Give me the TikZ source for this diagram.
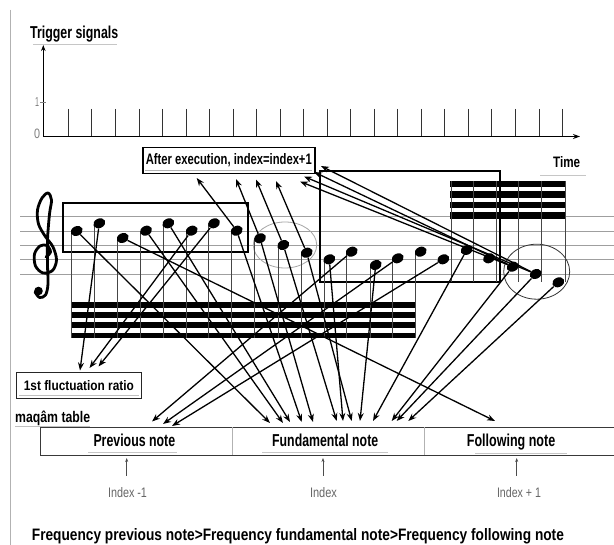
\documentclass[tikz,border=0pt]{standalone}
\usepackage{fontspec}
\setmainfont{Liberation Sans}
\usepackage{graphicx}
\usetikzlibrary{arrows.meta,shapes.geometric}
\newcommand{\fitt}[3]{\resizebox{#1pt}{#2pt}{#3}}
\begin{document}
\begin{tikzpicture}[x=1pt,y=-1pt,
  txt/.style={inner sep=0pt, anchor=base west},
  arr/.style={line width=1.3pt, -{Stealth[length=8pt,width=6pt]}},
  nh/.style={ellipse, fill=black, inner sep=0pt, minimum width=12.5pt, minimum height=9.5pt, rotate=25},
  staff/.style={draw=gray!75, line width=0.9pt},
  stemline/.style={draw=gray!55!black, line width=0.5pt},
  beam/.style={fill=black},
  idx/.style={-{Stealth[length=4pt,width=3pt]}, gray!60!black, line width=0.6pt}
]
\fill[white] (0,0) rectangle (614,545);
\useasboundingbox (0,0) rectangle (614,545);

% left rule
\draw[gray!60, line width=0.8pt] (10.7,10) -- (10.7,545);

% trigger signal plot
\node[txt] (trig) at (30,39) {\fitt{88}{12.5}{\bfseries Trigger signals}};
\draw[gray!45, line width=1pt] (33,44.5) -- (117,44.5);
\coordinate (yo) at (43.3,136.5);
\coordinate (ytop) at (43.3,45);
\coordinate (xend) at (580,136.5);
\draw[line width=1.3pt, -{Stealth[length=6pt,width=4.5pt]}] (yo) -- (ytop);
\draw[line width=1.8pt, -{Stealth[length=7pt,width=5pt]}] (yo) -- (xend);
\foreach \i in {0,...,21} \draw[gray!40!black, line width=0.7pt] ({68.3+23.53*\i},109) -- ({68.3+23.53*\i},136);
\draw[gray, line width=0.6pt] (40,102) -- (46,102);
\node[txt, anchor=base] (one) at (37,107) {\color{gray}\fitt{4}{9}{1}};
\node[txt, anchor=base] (zero) at (37,139) {\color{gray}\fitt{6}{9.5}{0}};

% time
\node[txt] (time) at (553,168) {\fitt{27}{11}{\bfseries Time}};
\draw[gray!45, line width=1pt] (540,175.7) -- (586,175.7);

% execution box
\node[draw, line width=1.5pt, minimum width=172pt, minimum height=26pt, inner sep=0pt] (exe) at (228.8,160.3) {\fitt{166}{11}{\bfseries After execution, index=index+1}};
\draw[gray!60, line width=0.6pt] (145,170.8) -- (312,170.8);

% staff
\foreach \y in {216.7,231,245.3,259.7,274} \draw[staff] (20,\y) -- (614,\y);

% treble clef drawn as a shape
\draw[line width=2.8pt, line cap=round, line join=round] plot[smooth, tension=0.55] coordinates {
  (46,257) (50.5,252) (47,245.5) (40,246) (34.5,254) (35.5,266) (43,273) (52.5,270.5) (56.5,260)
  (53,247) (45,236) (38.5,224) (37.5,210) (42,198) (48,193) (51.5,200) (49.5,214) (47.5,240)
  (47.5,265) (48,284) (45.5,295) (39.5,297.5) (35,292)};
\fill (38.5,291) circle (4.3pt);

% groups
\node[draw, line width=1.8pt, minimum width=185.6pt, minimum height=49pt, inner sep=0pt] (grp1) at (155.5,227.2) {};
\node[draw, line width=1.4pt, minimum width=180pt, minimum height=111pt, inner sep=0pt] (grp3) at (410,226.5) {};
\node[draw=gray!70, line width=0.8pt, ellipse, minimum width=63.4pt, minimum height=46pt, inner sep=0pt] (grp2) at (285,245) {};
\node[draw=gray!40!black, line width=0.8pt, ellipse, minimum width=66pt, minimum height=55pt, inner sep=0pt] (grp4) at (536.7,271.7) {};

% beams
\foreach \a/\b in {180.7/187.3,191/197.7,201.7/208.3,212.3/219} \fill[beam] (450,\a) rectangle (565,\b);
\foreach \a/\b in {301.7/308.3,311.7/317.7,321.7/327.7,332.7/338.3} \fill[beam] (70.7,\a) rectangle (415,\b);

% stems
\foreach \x/\y in {76.7/231,99.3/223.3,122.7/238,146/230.7,168.3/223.3,191.7/230.7,214/223.3,236.7/230.7,260/238.3,283.3/245,306.7/252.7,329.3/259.3,351.7/251.7,375.7/265,397.7/258.3,420.7/251.7}
  \draw[stemline] ({\x-5.3},\y) -- ({\x-5.3},338);
\foreach \x in {451.7,473,496.7,518,541.7,565} \draw[stemline] (\x,181) -- (\x,282);

% notes
\node[nh] (n1) at (76.7,231) {};
\node[nh] (n2) at (99.3,223.3) {};
\node[nh] (n3) at (122.7,238) {};
\node[nh] (n4) at (146,230.7) {};
\node[nh] (n5) at (168.3,223.3) {};
\node[nh] (n6) at (191.7,230.7) {};
\node[nh] (n7) at (214,223.3) {};
\node[nh] (n8) at (236.7,230.7) {};
\node[nh] (m1) at (260,238.3) {};
\node[nh] (m2) at (283.3,245) {};
\node[nh] (m3) at (306.7,252.7) {};
\node[nh] (p1) at (329.3,259.3) {};
\node[nh] (p2) at (351.7,251.7) {};
\node[nh] (p3) at (375.7,265) {};
\node[nh] (p4) at (397.7,258.3) {};
\node[nh] (p5) at (420.7,251.7) {};
\node[nh] (p6) at (443.3,259.3) {};
\node[nh] (p7) at (466.7,250) {};
\node[nh] (p8) at (489,258.3) {};
\node[nh] (q1) at (512.7,266.7) {};
\node[nh] (q2) at (535.7,274) {};
\node[nh] (q3) at (558.3,282.3) {};

% fluctuation box
\node[draw=gray!30!black, line width=1pt, minimum width=125.7pt, minimum height=25.6pt, inner sep=0pt] (fluct) at (78.85,385.5) {\fitt{110}{10}{\bfseries 1st fluctuation ratio}};
\draw[gray!50, line width=0.6pt] (19,395.5) -- (139,395.5);

% maqam table
\node[txt] (maq) at (15,423) {\fitt{75}{11.5}{\bfseries maqâm table}};
\draw[gray!50, line width=0.8pt] (15,426.5) -- (90,426.5);
\draw[gray!45!black, line width=0.9pt] (614,427.3) -- (40,427.3) -- (40,455.5) -- (614,455.5);
\draw[gray!60, line width=0.7pt] (232.3,427.3) -- (232.3,455.5) (424,427.3) -- (424,455.5);
\node[txt] (prev) at (93.3,447) {\fitt{81.7}{12.5}{\bfseries Previous note}};
\node[txt] (fund) at (272,447) {\fitt{106}{12.5}{\bfseries Fundamental note}};
\node[txt] (foll) at (466.7,447) {\fitt{88.3}{12.5}{\bfseries Following note}};
\draw[gray!45, line width=0.8pt] (88,452.5) -- (177,452.5) (262,452.5) -- (388,452.5) (475,453) -- (567,453);

% index markers
\coordinate (i1b) at (126.7,476); \coordinate (i1t) at (126.7,458);
\coordinate (i2b) at (323,476); \coordinate (i2t) at (323,458);
\coordinate (i3b) at (516.7,476); \coordinate (i3t) at (516.7,458);
\draw[idx] (i1b) -- (i1t);
\draw[idx] (i2b) -- (i2t);
\draw[idx] (i3b) -- (i3t);
\node[txt, anchor=base] (ix1) at (127.5,498) {\color{gray!80!black}\fitt{39}{10}{Index -1}};
\node[txt, anchor=base] (ix2) at (323.5,498) {\color{gray!80!black}\fitt{27}{10}{Index}};
\node[txt, anchor=base] (ix3) at (519,498) {\color{gray!80!black}\fitt{44}{10}{Index + 1}};

% bottom text
\node[txt] (freq) at (31.7,540) {\fitt{532}{12}{\bfseries Frequency previous note>Frequency fundamental note>Frequency following note}};

% arrow targets
\coordinate (t1) at (196.7,178); \coordinate (t2) at (236,179);
\coordinate (t3) at (256,179.5); \coordinate (t4) at (276,181);
\coordinate (t5) at (300,181.5); \coordinate (t6) at (304,176.5);
\coordinate (t7) at (314,172); \coordinate (t8) at (321,166);
\coordinate (u1) at (80,370.5); \coordinate (u2) at (89.5,368); \coordinate (u3) at (98.5,366.5);
\coordinate (v1) at (152,421.5); \coordinate (v2) at (163,424); \coordinate (v3) at (172,426);
\coordinate (f1) at (270,423); \coordinate (f2) at (283,423); \coordinate (f3) at (290,422);
\coordinate (f4) at (301.7,422); \coordinate (f5) at (313,422); \coordinate (f6) at (336.7,421);
\coordinate (f7) at (343,421); \coordinate (f8) at (351.7,421); \coordinate (f9) at (360,421);
\coordinate (f10) at (373,421); \coordinate (f11) at (391.7,421); \coordinate (f12) at (396.7,421);
\coordinate (f13) at (408.3,421);
\coordinate (g1) at (495,421);

% arrows up
\draw[arr] (n8) -- (t1);
\draw[arr] (m1) -- (t2);
\draw[arr] (m2) -- (t3);
\draw[arr] (m3) -- (t4);
\draw[arr] (q1) -- (t5);
\draw[arr] (q2) -- (t6);
\draw[arr] (q1) -- (t7);
\draw[arr] (q2) -- (t8);
% arrows down
\draw[arr] (n2) -- (u1);
\draw[arr] (n6) -- (u2);
\draw[arr] (n7) -- (u3);
\draw[arr] (p2) -- (v1);
\draw[arr] (p4) -- (v2);
\draw[arr] (p6) -- (v3);
\draw[arr] (n1) -- (f1);
\draw[arr] (n4) -- (f2);
\draw[arr] (n5) -- (f3);
\draw[arr] (n8) -- (f4);
\draw[arr] (m1) -- (f5);
\draw[arr] (m2) -- (f6);
\draw[arr] (p1) -- (f7);
\draw[arr] (m3) -- (f8);
\draw[arr] (p3) -- (f9);
\draw[arr] (p7) -- (f10);
\draw[arr] (q1) -- (f11);
\draw[arr] (q2) -- (f12);
\draw[arr] (q3) -- (f13);
\draw[arr] (n3) -- (g1);
\end{tikzpicture}
\end{document}
